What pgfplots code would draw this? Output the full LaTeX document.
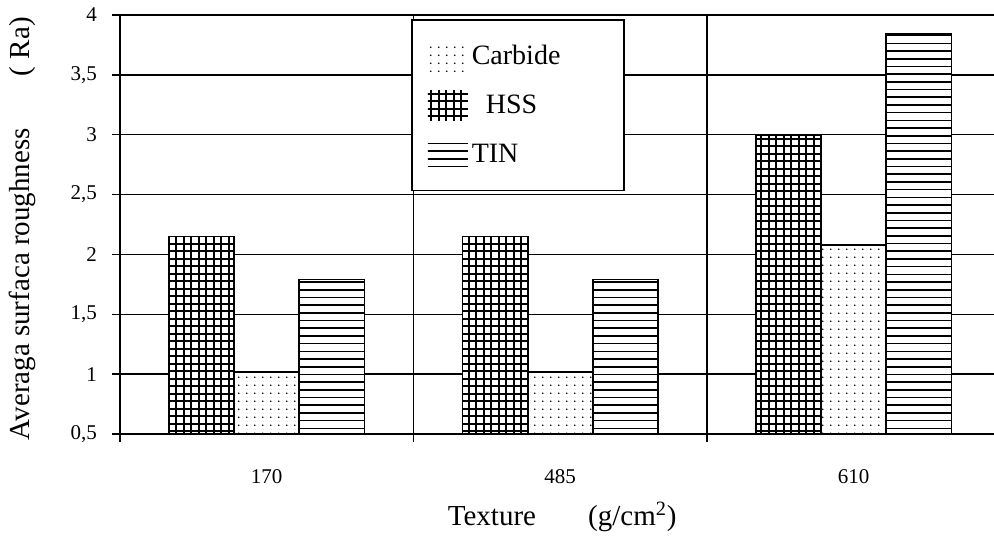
\documentclass[border=0pt]{standalone}
\usepackage{fontspec}
\setmainfont{Liberation Serif}
\usepackage{pgfplots}
\pgfplotsset{compat=1.18}
\usetikzlibrary{patterns,patterns.meta}

% wide tiles so the lines run without seams
\pgfdeclarepatternformonly{tinlines}{\pgfpoint{-1pt}{-1pt}}{\pgfpoint{41pt}{4.85pt}}{\pgfpoint{40pt}{3.85pt}}{%
  \pgfsetlinewidth{0.8pt}%
  \pgfpathmoveto{\pgfpoint{-1pt}{1.9pt}}\pgfpathlineto{\pgfpoint{41pt}{1.9pt}}%
  \pgfusepath{stroke}}
\pgfdeclarepatternformonly{hssgrid}{\pgfpoint{-1pt}{-1pt}}{\pgfpoint{31pt}{31pt}}{\pgfpoint{30pt}{30pt}}{%
  \pgfsetlinewidth{0.8pt}%
  \foreach \k in {0,...,7}{%
    \pgfpathmoveto{\pgfpoint{-1pt}{1.875pt+3.75pt*\k}}\pgfpathlineto{\pgfpoint{31pt}{1.875pt+3.75pt*\k}}%
    \pgfpathmoveto{\pgfpoint{1.875pt+3.75pt*\k}{-1pt}}\pgfpathlineto{\pgfpoint{1.875pt+3.75pt*\k}{31pt}}%
  }%
  \pgfusepath{stroke}}

\tikzset{
  carb/.style={pattern={Dots[distance=3.85pt,radius=0.45pt]}},
  hss/.style={pattern=hssgrid},
  tin/.style={pattern=tinlines},
}

\begin{document}
\begin{tikzpicture}
\begin{axis}[
  scale only axis,
  width=437pt, height=209.5pt,
  xmin=-0.5, xmax=2.478,
  ymin=0.5, ymax=4,
  axis x line*=bottom, axis y line*=left,
  axis line style={-, black, line width=0.75pt},
  ytick={0.5,1,...,4},
  xtick={-0.5,0.5,1.5}, xticklabels={},
  extra x ticks={0,1,2},
  extra x tick labels={170,485,610},
  extra x tick style={major tick length=0pt, grid=none},
  xticklabel style={yshift=-14pt},
  yticklabel={\pgfmathprintnumber[use comma]{\tick}\kern4pt},
  xmajorgrids=true, ymajorgrids=true,
  major grid style={black, line width=0.75pt},
  tick style={black, line width=0.75pt},
  major tick length=4pt,
  tick align=outside,
  /pgf/number format/assume math mode=true,
  ticklabel style={font=\fontsize{10.5}{12}\selectfont},
  every axis y label/.style={at={(axis description cs:-0.112,0.49)}, rotate=90, anchor=center,
    font=\fontsize{14.5}{17}\selectfont},
  every axis x label/.style={at={(axis description cs:0.506,-0.198)}, anchor=center,
    font=\fontsize{14.5}{17}\selectfont},
  ylabel={Averaga surfaca roughness\hspace{1.8em}( Ra)},
  xlabel={Texture\hspace{1.8em}(g/cm\textsuperscript{2})},
  legend style={at={(axis description cs:0.333,0.990)}, anchor=north west,
    draw=black, line width=0.75pt, fill=white,
    inner xsep=8pt, inner ysep=10.5pt, row sep=9.5pt,
    font=\fontsize{14}{16}\selectfont},
  legend cell align=left,
]
\coordinate (sw) at (rel axis cs:0,0);
\coordinate (ne) at (rel axis cs:1,1);

% HSS
\addplot[ybar, forget plot, bar width=0.222, bar shift=-0.222,
  preaction={fill=white}, hss, draw=black, line width=0.85pt]
  coordinates {(0,2.15) (1,2.15) (2,3.0)};
% Carbide
\addplot[ybar, forget plot, bar width=0.222, bar shift=0,
  preaction={fill=white}, carb, draw=black, line width=0.85pt]
  coordinates {(0,1.02) (1,1.02) (2,2.08)};
% TIN
\addplot[ybar, forget plot, bar width=0.222, bar shift=0.222,
  preaction={fill=white}, tin, draw=black, line width=0.85pt]
  coordinates {(0,1.79) (1,1.79) (2,3.84)};

\addlegendimage{legend image code/.code={\path[carb,draw=none] (0pt,-7.5pt) rectangle (20pt,7.5pt);}}
\addlegendentry{\makebox[66pt][l]{Carbide}}
\addlegendimage{legend image code/.code={\path[hss,draw=none] (0pt,-7.5pt) rectangle (20pt,7.5pt);}}
\addlegendentry{\hspace{7pt}HSS}
\addlegendimage{legend image code/.code={\path[tin,draw=none] (0pt,-7.5pt) rectangle (20pt,7.5pt);}}
\addlegendentry{TIN}
\end{axis}
\pgfresetboundingbox
\path[use as bounding box] ([shift={(-60pt,-53pt)}]sw) rectangle ([shift={(0pt,7.5pt)}]ne);
\end{tikzpicture}
\end{document}
